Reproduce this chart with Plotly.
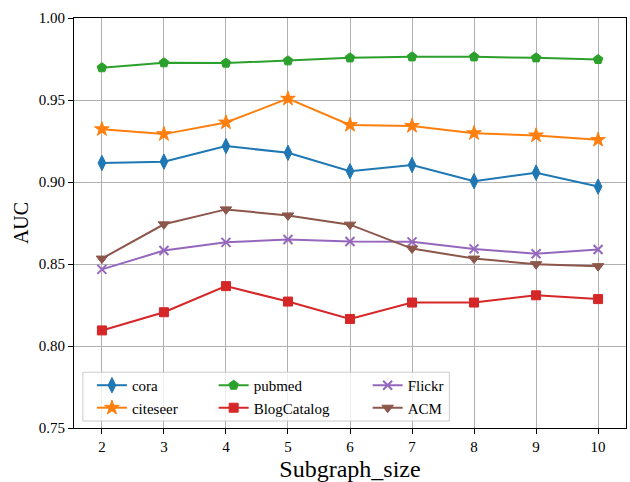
import plotly.graph_objects as go

subgraph_size = [2, 3, 4, 5, 6, 7, 8, 9, 10]
cora = [0.9116, 0.9124, 0.9219, 0.9178, 0.9066, 0.9104, 0.9005, 0.9057, 0.8972]
citeseer = [0.9322, 0.9292, 0.9363, 0.9508, 0.9348, 0.9342, 0.9298, 0.9284, 0.9257]
pubmed = [0.9697, 0.9727, 0.9725, 0.9739, 0.9757, 0.9763, 0.9763, 0.9757, 0.9747]
blogcatalog = [0.8095, 0.8206, 0.8365, 0.8271, 0.8165, 0.8265, 0.8265, 0.8309, 0.8286]
flickr = [0.8467, 0.8582, 0.8632, 0.8649, 0.8637, 0.8635, 0.8592, 0.8562, 0.8588]
acm = [0.8533, 0.8742, 0.8833, 0.8796, 0.8740, 0.8594, 0.8533, 0.8499, 0.8487]

x_ticks = [2, 3, 4, 5, 6, 7, 8, 9, 10]
y_ticks = [0.75, 0.80, 0.85, 0.90, 0.95, 1.00]

FONT = "Liberation Serif"

series = [
    ("cora", cora, "#1f77b4", "diamond-tall", 11, "legend"),
    ("citeseer", citeseer, "#ff7f0e", "star", 11, "legend"),
    ("pubmed", pubmed, "#2ca02c", "pentagon", 10, "legend2"),
    ("BlogCatalog", blogcatalog, "#d62728", "square", 9, "legend2"),
    ("Flickr", flickr, "#9467bd", "x-thin", 9, "legend3"),
    ("ACM", acm, "#8c564b", "triangle-down", 10, "legend3"),
]

fig = go.Figure()
for name, vals, color, sym, size, lg in series:
    mline = dict(width=2, color=color) if sym == "x-thin" else dict(width=1, color=color)
    fig.add_trace(go.Scatter(
        x=subgraph_size, y=vals, name=name, mode="lines+markers",
        line=dict(color=color, width=2),
        marker=dict(symbol=sym, size=size, color=color, line=mline),
        legend=lg,
    ))

axis_common = dict(
    showline=True, linecolor="black", linewidth=1.2, mirror=True,
    ticks="outside", ticklen=5, tickcolor="black", tickwidth=1,
    showgrid=True, gridcolor="#b0b0b0", gridwidth=1,
    zeroline=False,
    tickfont=dict(family=FONT, size=15, color="black"),
)

fig.update_xaxes(
    range=[1.55, 10.45], tickvals=x_ticks,
    title=dict(text="Subgraph_size", font=dict(family=FONT, size=24, color="black"), standoff=7),
    **axis_common,
)
fig.update_yaxes(
    range=[0.75, 1.0], tickvals=y_ticks, tickformat=".2f",
    title=dict(text="AUC", font=dict(family=FONT, size=20, color="black"), standoff=4),
    **axis_common,
)

leg_common = dict(
    orientation="v", yanchor="top", xanchor="left", y=0.144,
    bgcolor="rgba(0,0,0,0)", borderwidth=0,
    font=dict(family=FONT, size=15, color="black"),
    tracegroupgap=0,
)

fig.update_layout(
    width=630, height=482,
    margin=dict(l=74, r=3, t=18, b=52),
    plot_bgcolor="white", paper_bgcolor="white",
    showlegend=True,
    legend=dict(x=0.0325, **leg_common),
    legend2=dict(x=0.253, **leg_common),
    legend3=dict(x=0.532, **leg_common),
    shapes=[dict(
        type="rect", xref="paper", yref="paper",
        x0=0.016, x1=0.68, y0=0.017, y1=0.136,
        fillcolor="rgba(255,255,255,0.8)",
        line=dict(color="#cccccc", width=1), layer="above",
    )],
)

fig.write_html(
    "out.html",
    config={"displayModeBar": False},
    post_script="document.body.style.margin='0px';document.body.style.overflow='hidden';",
)
